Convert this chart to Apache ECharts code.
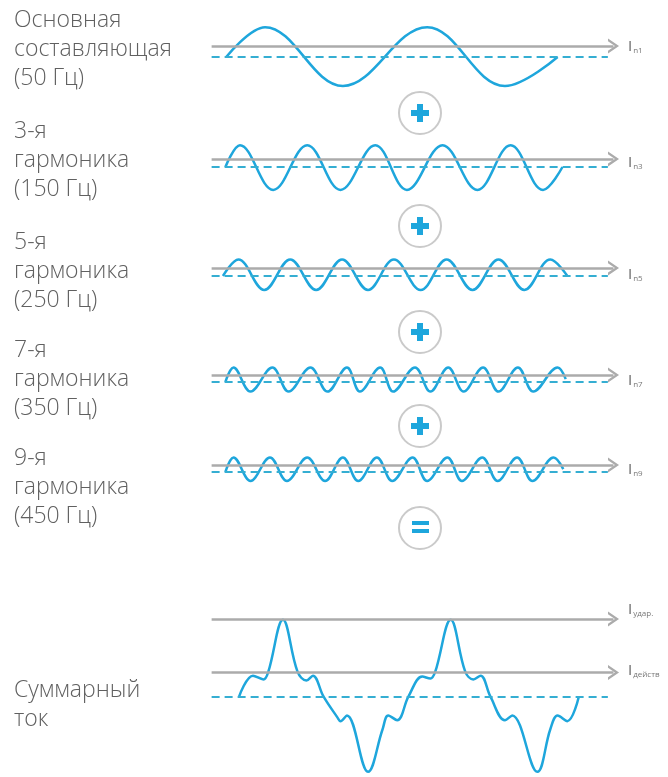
<!DOCTYPE html>
<html><head><meta charset="utf-8">
<script src="https://cdn.jsdelivr.net/npm/echarts@6/dist/echarts.min.js"></script>
<style>html,body{margin:0;padding:0;background:#fff}#c{width:668px;height:777px}</style>
</head><body><div id="c"></div>
<script>
// ---- data (time units along x, amplitude units on y; fundamental amplitude = 1) ----
const fundX = [0, 4.8, 14.4, 24.8, 34.4, 40.9];
const fundY = [0, 1.03, -1.0, 1.03, -1.0, 0];

const h3X = [-0.1, 1.7, 5.8, 10.0, 14.1, 18.4, 22.3, 26.7, 31.0, 35.1, 39.1, 41.5];
const h3Y = [0, 0.75, -0.79, 0.75, -0.79, 0.75, -0.79, 0.75, -0.79, 0.75, -0.79, 0];

const h5X = [-0.4, 1.5, 4.7, 7.9, 11.1, 14.3, 17.5, 20.7, 24.0, 27.2, 30.4, 33.6, 36.8, 40.0, 42.1];
const h5Y = [0, 0.57, -0.48, 0.57, -0.48, 0.57, -0.48, 0.57, -0.48, 0.57, -0.48, 0.57, -0.48, 0.57, 0];

const h7X = [-0.1, 0.9, 3.0, 5.7, 7.7, 10.4, 12.5, 14.9, 16.5, 19.0, 20.6, 23.3, 25.2, 27.4, 29.3, 31.7, 33.6, 36.0, 37.9, 40.9, 41.9];
const h7Y = [0, 0.5, -0.33, 0.5, -0.33, 0.5, -0.33, 0.5, -0.33, 0.5, -0.33, 0.5, -0.33, 0.5, -0.33, 0.5, -0.33, 0.5, -0.33, 0.5, 0.1];

const h9X = [-0.1, 0.9, 3.0, 5.4, 7.5, 10.0, 12.2, 14.4, 16.3, 18.6, 20.5, 23.0, 24.8, 27.3, 29.1, 31.6, 33.5, 35.9, 37.8, 40.4, 41.6];
const h9Y = [0, 0.5, -0.31, 0.5, -0.31, 0.5, -0.31, 0.5, -0.31, 0.5, -0.31, 0.5, -0.31, 0.5, -0.31, 0.5, -0.31, 0.5, -0.31, 0.5, 0.1];

const sumX = [1.6, 3.3, 4.6, 5.2, 7.0, 8.8, 9.9, 10.7, 12.0, 13.7, 14.1, 14.9, 17.5, 19.3, 20.0, 21.1, 22.5, 24.2, 25.2, 25.8, 27.7, 29.5, 30.5, 31.4, 32.6, 34.4, 35.3, 38.4, 40.0, 40.9, 42.1, 43.5];
const sumY = [0, 0.72, 0.59, 0.86, 2.66, 0.86, 0.55, 0.72, 0, -0.72, -0.86, -0.66, -2.62, -1.14, -0.66, -0.83, 0, 0.69, 0.62, 0.86, 2.66, 0.86, 0.59, 0.72, 0, -0.83, -0.66, -2.62, -1.14, -0.66, -0.86, -0.03];

// reference levels (gray arrows) per panel, amplitude units
const grayLevels = [[0.38], [0.28], [0.28], [0.24], [0.24], [2.69, 0.83]];

// texts
const rowLabels = [
  ['Основная', 'составляющая', '(50 Гц)'],
  ['3-я', 'гармоника', '(150 Гц)'],
  ['5-я', 'гармоника', '(250 Гц)'],
  ['7-я', 'гармоника', '(350 Гц)'],
  ['9-я', 'гармоника', '(450 Гц)'],
  ['Суммарный', 'ток']
];
const curveSubs = [['n1'], ['n3'], ['n5'], ['n7'], ['n9'], ['удар.', 'действ']];
const opSigns = ['+', '+', '+', '+', '='];

// ---- layout ----
const PX_PER_UNIT = 29;
const centers = [57, 167, 276, 382, 472, 697];
const yMaxs = [1.2, 1.2, 1.2, 1.2, 1.2, 2.9];
const yMins = [-1.2, -1.2, -1.2, -1.2, -1.2, -2.8];
const labelDy = [[1], [4], [7], [6], [5], [-9, -2]];
const textCenters = [49, 160, 271, 379, 487, 705];
const circleYs = [113, 226, 332, 426, 528];
const X_MIN = -2, X_MAX = 48.6, LINE_START = -1.8, GRAY_END = 47.8, DASH_END = 47.1;
const GRID_LEFT = 210, GRID_RIGHT = 48;

const WAVE = '#1ea6dc', DASH = '#35aed2', GRAY = '#ababab', TXT = '#606060';
const ARROW = 'path://M7.5,0 L15,11 L12.2,11 L7.5,4.1 L2.8,11 L0,11 Z';

const waves = [[fundX, fundY], [h3X, h3Y], [h5X, h5Y], [h7X, h7Y], [h9X, h9Y], [sumX, sumY]];

const grids = [], xAxes = [], yAxes = [], series = [], graphics = [];
waves.forEach((w, i) => {
  grids.push({left: GRID_LEFT, right: GRID_RIGHT, top: centers[i] - yMaxs[i] * PX_PER_UNIT,
              height: (yMaxs[i] - yMins[i]) * PX_PER_UNIT});
  xAxes.push({type: 'value', gridIndex: i, min: X_MIN, max: X_MAX, show: false});
  yAxes.push({type: 'value', gridIndex: i, min: yMins[i], max: yMaxs[i], show: false});
  const ml = [
    [{coord: [LINE_START, 0], symbol: 'none', lineStyle: {color: DASH, width: 2, type: [8, 5]}},
     {coord: [DASH_END, 0], symbol: 'none'}]
  ];
  grayLevels[i].forEach(g => {
    ml.push([{coord: [LINE_START, g], symbol: 'none', lineStyle: {color: GRAY, width: 2.5, type: 'solid'}},
             {coord: [GRAY_END, g], symbol: ARROW, symbolSize: [15, 11]}]);
  });
  series.push({type: 'line', xAxisIndex: i, yAxisIndex: i, data: [], z: 1, silent: true,
    markLine: {silent: true, animation: false, symbol: 'none', label: {show: false}, data: ml}});
  series.push({type: 'line', xAxisIndex: i, yAxisIndex: i, z: 3, smooth: 0.38, showSymbol: false, silent: true,
    lineStyle: {color: WAVE, width: 2.5}, data: w[0].map((x, k) => [x, w[1][k]])});

  // curve labels
  grayLevels[i].forEach((g, k) => {
    graphics.push({type: 'text', x: 628, y: centers[i] - g * PX_PER_UNIT + labelDy[i][k], z: 10,
      style: {text: '{i|I}{s|' + curveSubs[i][k] + '}', verticalAlign: 'middle', align: 'left',
        rich: {i: {fontSize: 15, fontFamily: 'Open Sans', fill: '#666', lineHeight: 16},
               s: {fontSize: 8, fontFamily: 'Open Sans', fill: '#777', lineHeight: 16, verticalAlign: 'bottom', padding: [0, 0, 0, 1]}}}});
  });
  // left text
  graphics.push({type: 'text', x: 14, y: textCenters[i], z: 10,
    style: {text: rowLabels[i].join('\n'), fontSize: 23, fontFamily: 'Open Sans', fontWeight: 300,
      fill: TXT, lineHeight: 29, verticalAlign: 'middle', align: 'left'}});
});

opSigns.forEach((s, i) => {
  const cy = circleYs[i];
  graphics.push({type: 'circle', z: 10, shape: {cx: 420, cy: cy, r: 21}, style: {fill: '#fff', stroke: '#cacaca', lineWidth: 2}});
  if (s === '+') {
    graphics.push({type: 'rect', z: 11, shape: {x: 411, y: cy - 3, width: 18, height: 6}, style: {fill: WAVE}});
    graphics.push({type: 'rect', z: 11, shape: {x: 417, y: cy - 9, width: 6, height: 18}, style: {fill: WAVE}});
  } else {
    graphics.push({type: 'rect', z: 11, shape: {x: 412, y: cy - 7, width: 17, height: 4}, style: {fill: WAVE}});
    graphics.push({type: 'rect', z: 11, shape: {x: 412, y: cy + 1, width: 17, height: 4}, style: {fill: WAVE}});
  }
});

const chart = echarts.init(document.getElementById('c'), null, {renderer: 'canvas'});
chart.setOption({
  animation: false,
  backgroundColor: '#fff',
  grid: grids, xAxis: xAxes, yAxis: yAxes, series: series, graphic: graphics
});
</script>
</body></html>
